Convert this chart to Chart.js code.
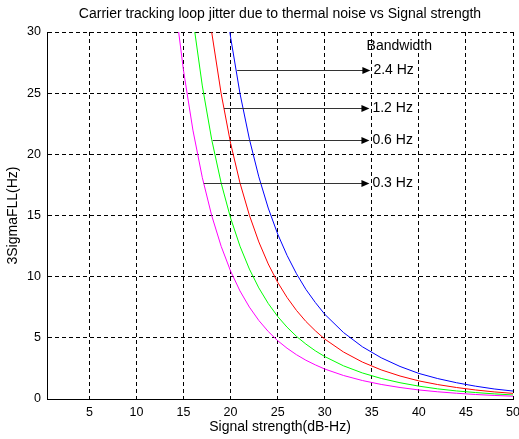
<!DOCTYPE html>
<html><head><meta charset="utf-8">
<script src="https://cdn.jsdelivr.net/npm/chart.js@4/dist/chart.umd.min.js"></script>
<style>html,body{margin:0;padding:0;background:#fff;}</style>
</head><body>
<canvas id="c" width="519" height="439"></canvas>
<script>
// Signal strength (dB-Hz) sample points
const signalStrength = [13,14,15,16,17,18,19,20,21,22,23,24,25,26,27,28,29,30,32,34,36,38,40,42,44,46,48,50];
// 3-sigma FLL jitter (Hz), one array per loop bandwidth
const jitter03 = [40.6,32.95,26.85,21.98,18.09,14.98,12.48,10.46,8.83,7.51,6.42,5.52,4.77,4.15,3.62,3.17,2.79,2.45,1.92,1.51,1.19,0.94,0.74,0.59,0.47,0.37,0.29,0.23];
const jitter06 = [null,46.6,37.97,31.09,25.59,21.19,17.65,14.80,12.49,10.62,9.08,7.81,6.75,5.87,5.12,4.49,3.94,3.47,2.71,2.13,1.68,1.33,1.05,0.83,0.66,0.53,0.42,0.33];
const jitter12 = [null,null,null,43.96,36.18,29.96,24.96,20.92,17.66,15.02,12.84,11.04,9.54,8.30,7.24,6.34,5.58,4.90,3.84,3.02,2.38,1.88,1.48,1.18,0.94,0.74,0.58,0.46];
const jitter24 = [null,null,null,null,null,42.37,35.29,29.58,24.97,21.24,18.16,15.61,13.49,11.74,10.24,8.96,7.89,6.93,5.43,4.27,3.37,2.66,2.09,1.67,1.33,1.05,0.82,0.65];
const bandwidthLabels = ['0.3 Hz','0.6 Hz','1.2 Hz','2.4 Hz'];
const xTicks = [5,10,15,20,25,30,35,40,45,50];
const yTicks = [0,5,10,15,20,25,30];

// annotation arrows (data coordinates)
const arrowY = [17.69,21.21,23.81,26.86];
const arrowStartX = [17.15,18.1,19.3,20.7];
const arrowEndX = [34.75,34.75,34.75,34.85];
const legendTitle = 'Bandwidth';
const legendTitlePos = [34.45, 28.83];

const FONT = "'Liberation Sans', Arial, sans-serif";
const series = [jitter03, jitter06, jitter12, jitter24];
const colors = ['#ff00ff','#00ff00','#ff0000','#0000ff'];

const datasets = series.map((s, i) => ({
  label: bandwidthLabels[i],
  data: signalStrength.map((x, j) => ({x: x, y: s[j]})),
  borderColor: colors[i],
  borderWidth: 1,
  pointRadius: 0,
  tension: 0,
  fill: false
}));

const arrowPlugin = {
  id: 'arrows',
  afterDatasetsDraw(chart) {
    const ctx = chart.ctx;
    const xs = chart.scales.x, ys = chart.scales.y;
    ctx.save();
    ctx.font = '14px ' + FONT;
    ctx.textBaseline = 'middle';
    ctx.textAlign = 'left';
    for (let i = 0; i < arrowY.length; i++) {
      const y = Math.round(ys.getPixelForValue(arrowY[i])) + 0.5;
      const x0 = xs.getPixelForValue(arrowStartX[i]);
      const x1 = xs.getPixelForValue(arrowEndX[i]);
      ctx.strokeStyle = '#333';
      ctx.lineWidth = 1;
      ctx.beginPath(); ctx.moveTo(x0, y); ctx.lineTo(x1 - 6, y); ctx.stroke();
      ctx.fillStyle = '#000';
      ctx.beginPath(); ctx.moveTo(x1, y); ctx.lineTo(x1 - 8, y - 3.5); ctx.lineTo(x1 - 8, y + 3.5); ctx.closePath(); ctx.fill();
      ctx.fillText(bandwidthLabels[i], x1 + 3, y);
    }
    ctx.fillStyle = '#000';
    ctx.fillText(legendTitle, xs.getPixelForValue(legendTitlePos[0]), ys.getPixelForValue(legendTitlePos[1]));
    ctx.restore();
  }
};

new Chart(document.getElementById('c'), {
  type: 'line',
  data: { datasets },
  plugins: [arrowPlugin],
  options: {
    responsive: false,
    animation: false,
    layout: { padding: { left: 0, right: 6, top: 0, bottom: 0 } },
    plugins: {
      legend: { display: false },
      tooltip: { enabled: false },
      title: {
        display: true,
        fullSize: false,
        text: 'Carrier tracking loop jitter due to thermal noise vs Signal strength',
        color: '#000',
        font: { family: FONT, size: 14, weight: 'normal' },
        padding: { top: 6, bottom: 9.2 }
      }
    },
    scales: {
      x: {
        type: 'linear',
        min: 0.5, max: 50,
        afterBuildTicks: s => { s.ticks = xTicks.map(v => ({value: v})); },
        afterFit: s => { s.height = 40; s.paddingLeft = 0; s.paddingRight = 0; },
        ticks: { color: '#000', font: { family: FONT, size: 12.5 }, padding: 6, maxRotation: 0, autoSkip: false },
        grid: { color: '#000', lineWidth: 1, drawTicks: false },
        border: { display: true, color: '#000', width: 1, dash: [4, 3] },
        title: { display: true, text: 'Signal strength(dB-Hz)', color: '#000', font: { family: FONT, size: 14 }, padding: { top: 3, bottom: 3 } }
      },
      y: {
        type: 'linear',
        min: 0, max: 30,
        afterBuildTicks: s => { s.ticks = yTicks.map(v => ({value: v})); },
        afterFit: s => { s.width = 47; s.paddingTop = 0; s.paddingBottom = 0; },
        ticks: { color: '#000', font: { family: FONT, size: 12.5 }, padding: 6 },
        grid: { color: '#000', lineWidth: 1, drawTicks: false },
        border: { display: true, color: '#000', width: 1, dash: [4, 3] },
        title: { display: true, text: '3SigmaFLL(Hz)', color: '#000', font: { family: FONT, size: 14 }, padding: { top: 5, bottom: 5 } }
      }
    }
  }
});
</script>
</body></html>
